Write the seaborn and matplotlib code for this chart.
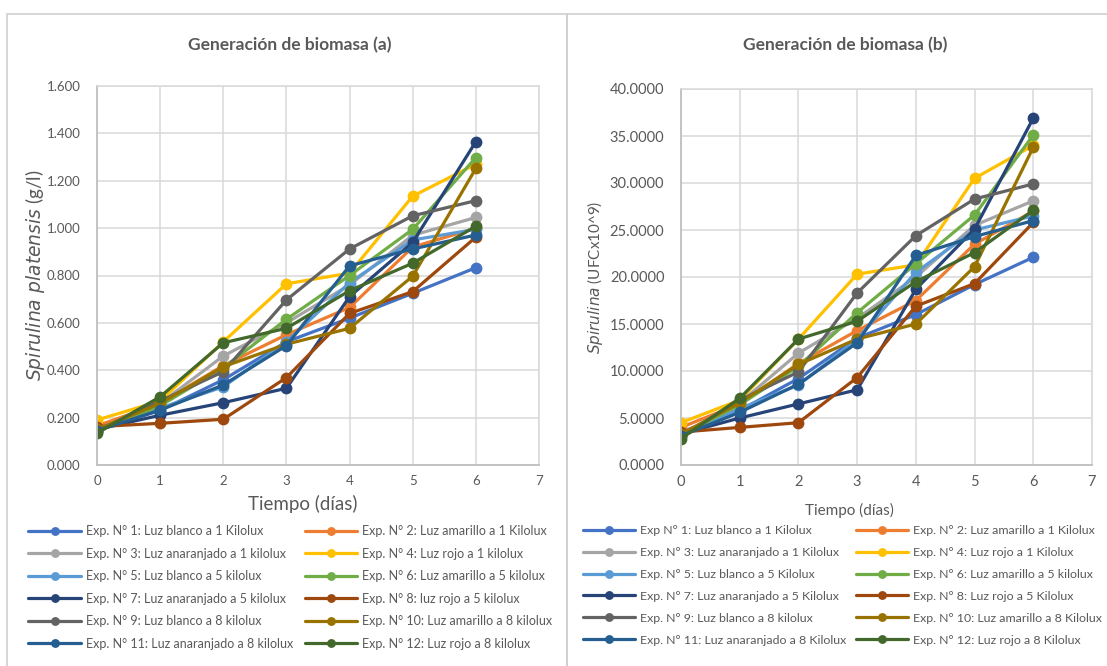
import pandas as pd
import seaborn as sns
from matplotlib import pyplot as plt
from matplotlib.patches import Rectangle

dias = [0, 1, 2, 3, 4, 5, 6]

colores = ["#4472C4", "#ED7D31", "#A5A5A5", "#FFC000", "#5B9BD5", "#70AD47",
           "#264478", "#9E480E", "#636363", "#997300", "#255E91", "#43682B"]

etiquetas_a = ["Exp. N° 1: Luz blanco a 1 Kilolux", "Exp. N° 2: Luz amarillo a 1 Kilolux",
               "Exp. N° 3: Luz anaranjado a 1 kilolux", "Exp. N° 4: Luz rojo a 1 kilolux",
               "Exp. N° 5: Luz blanco a 5 kilolux", "Exp. N° 6: Luz amarillo a 5 kilolux",
               "Exp. N° 7: Luz anaranjado a 5 kilolux", "Exp. N° 8: luz rojo a 5 kilolux",
               "Exp. N° 9: Luz blanco a 8 kilolux", "Exp. N° 10: Luz amarillo a 8 kilolux",
               "Exp. N° 11: Luz anaranjado a 8 kilolux", "Exp. N° 12: Luz rojo a 8 kilolux"]

etiquetas_b = ["Exp N° 1: Luz blanco a 1 Kilolux", "Exp. N° 2: Luz amarillo a 1 Kilolux",
               "Exp. N° 3: Luz anaranjado a 1 Kilolux", "Exp. N° 4: Luz rojo a 1 Kilolux",
               "Exp. N° 5: Luz blanco a 5 Kilolux", "Exp. N° 6: Luz amarillo a 5 kilolux",
               "Exp. N° 7: Luz anaranjado a 5 Kilolux", "Exp. N° 8: Luz rojo a 5 Kilolux",
               "Exp. N° 9: Luz blanco a 8 kilolux", "Exp. N° 10: Luz amarillo a 8 Kilolux",
               "Exp. N° 11: Luz anaranjado a 8 Kilolux", "Exp. N° 12: Luz rojo a 8 Kilolux"]

# (a) biomasa en g/l
a_exp1 = [0.150, 0.230, 0.360, 0.520, 0.620, 0.725, 0.833]
a_exp2 = [0.165, 0.260, 0.420, 0.550, 0.665, 0.920, 1.000]
a_exp3 = [0.150, 0.260, 0.460, 0.600, 0.760, 0.970, 1.045]
a_exp4 = [0.190, 0.270, 0.520, 0.765, 0.810, 1.135, 1.270]
a_exp5 = [0.150, 0.240, 0.330, 0.520, 0.770, 0.950, 0.995]
a_exp6 = [0.145, 0.250, 0.410, 0.615, 0.800, 0.995, 1.298]
a_exp7 = [0.150, 0.210, 0.263, 0.324, 0.711, 0.940, 1.365]
a_exp8 = [0.162, 0.176, 0.193, 0.369, 0.640, 0.732, 0.962]
a_exp9 = [0.145, 0.270, 0.394, 0.697, 0.912, 1.052, 1.116]
a_exp10 = [0.150, 0.260, 0.415, 0.510, 0.577, 0.797, 1.252]
a_exp11 = [0.145, 0.232, 0.338, 0.504, 0.841, 0.912, 0.971]
a_exp12 = [0.134, 0.288, 0.516, 0.577, 0.736, 0.852, 1.008]

# (b) UFC x10^9
b_exp1 = [3.5, 5.8, 9.2, 13.5, 16.0, 19.2, 22.1]
b_exp2 = [4.0, 6.5, 10.8, 14.3, 17.5, 23.5, 27.0]
b_exp3 = [3.3, 6.6, 11.9, 15.6, 20.0, 25.5, 28.1]
b_exp4 = [4.5, 6.9, 13.4, 20.3, 21.3, 30.5, 34.0]
b_exp5 = [3.3, 6.0, 8.5, 13.4, 20.5, 25.0, 26.5]
b_exp6 = [3.2, 6.4, 10.5, 16.2, 21.4, 26.6, 35.1]
b_exp7 = [3.3, 5.0, 6.5, 8.0, 18.7, 25.1, 36.9]
b_exp8 = [3.5, 4.0, 4.5, 9.3, 16.9, 19.3, 25.8]
b_exp9 = [3.1, 6.9, 9.9, 18.3, 24.4, 28.3, 29.9]
b_exp10 = [3.3, 6.6, 10.7, 13.4, 15.0, 21.1, 33.8]
b_exp11 = [3.1, 5.6, 8.6, 13.0, 22.3, 24.3, 26.0]
b_exp12 = [2.8, 7.1, 13.4, 15.3, 19.5, 22.6, 27.1]

series_a = [a_exp1, a_exp2, a_exp3, a_exp4, a_exp5, a_exp6,
            a_exp7, a_exp8, a_exp9, a_exp10, a_exp11, a_exp12]
series_b = [b_exp1, b_exp2, b_exp3, b_exp4, b_exp5, b_exp6,
            b_exp7, b_exp8, b_exp9, b_exp10, b_exp11, b_exp12]


def tabla(series, etiquetas):
    filas = []
    for lab, vals in zip(etiquetas, series):
        for d, v in zip(dias, vals):
            filas.append({"dia": d, "valor": v, "exp": lab})
    return pd.DataFrame(filas)


sns.set_theme(style="white")
plt.rcParams["font.family"] = ["Lato", "DejaVu Sans"]
gris = "#595959"

fig = plt.figure(figsize=(11.07, 6.66), dpi=100)

# marcos de los dos graficos
for x0 in (7, 567):
    fig.patches.append(Rectangle((x0 / 1107, -0.01), 560 / 1107, 1 - 14 / 666 + 0.01,
                                 transform=fig.transFigure, fill=False,
                                 edgecolor="#D0D0D0", linewidth=1.2))

ax_a = fig.add_axes([97 / 1107, 1 - 465 / 666, 442 / 1107, 379 / 666])
ax_b = fig.add_axes([681 / 1107, 1 - 465 / 666, 411 / 1107, 376 / 666])

config = [
    dict(ax=ax_a, series=series_a, etiquetas=etiquetas_a, yticks=[i * 0.2 for i in range(9)],
         fmt="{:.3f}", ymax=1.6, titulo="Generación de biomasa (a)", xt=290,
         ylab=r"$\it{Spirulina\ platensis}$ (g/l)", fs_lab=13.5, fs_tick=9.5, fs_leg=9,
         xlab_pos=(0.466, -0.078), ylab_pos=(-0.112, 0.5), leg_x=17, colsp=0.95, lsp=0.84),
    dict(ax=ax_b, series=series_b, etiquetas=etiquetas_b, yticks=[i * 5 for i in range(9)],
         fmt="{:.4f}", ymax=40, titulo="Generación de biomasa (b)", xt=845,
         ylab=r"$\it{Spirulina}$ (UFCx10^9)", fs_lab=11, fs_tick=10.5, fs_leg=8.9,
         xlab_pos=(0.411, -0.100), ylab_pos=(-0.185, 0.5), leg_x=572, colsp=0.8, lsp=0.88),
]

for c in config:
    ax = c["ax"]
    df = tabla(c["series"], c["etiquetas"])
    sns.lineplot(data=df, x="dia", y="valor", hue="exp", hue_order=c["etiquetas"],
                 palette=colores, marker="o", markersize=8.5, markeredgewidth=0,
                 linewidth=2.3, estimator=None, errorbar=None, legend=False, ax=ax)
    ax.set_xlim(0, 7)
    ax.set_ylim(0, c["ymax"])
    ax.set_xticks(range(8))
    ax.set_yticks(c["yticks"])
    ax.set_yticklabels([c["fmt"].format(t) for t in c["yticks"]])
    ax.tick_params(axis="both", length=0, labelsize=c["fs_tick"], labelcolor=gris)
    ax.tick_params(axis="y", pad=12)
    ax.tick_params(axis="x", pad=7)
    ax.grid(True, color="#D9D9D9", linewidth=1.1)
    ax.set_axisbelow(True)
    for s in ["top", "right"]:
        ax.spines[s].set_color("#D9D9D9")
        ax.spines[s].set_linewidth(1.1)
    for s in ["left", "bottom"]:
        ax.spines[s].set_color("#BFBFBF")
        ax.spines[s].set_linewidth(1.3)
    ax.set_xlabel("Tiempo (días)", fontsize=c["fs_lab"], color=gris)
    ax.set_ylabel(c["ylab"], fontsize=c["fs_lab"], color=gris)
    ax.xaxis.set_label_coords(*c["xlab_pos"])
    ax.yaxis.set_label_coords(*c["ylab_pos"])
    fig.text(c["xt"] / 1107, 1 - 45 / 666, c["titulo"], ha="center", va="center",
             fontsize=12.5, fontweight="bold", color=gris)

    lineas = ax.get_lines()[:12]
    orden = [0, 2, 4, 6, 8, 10, 1, 3, 5, 7, 9, 11]
    ax.legend([lineas[i] for i in orden], [c["etiquetas"][i] for i in orden],
              ncol=2, loc="upper left", frameon=False, fontsize=c["fs_leg"],
              labelcolor=gris, handlelength=4.2, handletextpad=0.4,
              columnspacing=c["colsp"], labelspacing=c["lsp"], markerscale=0.75,
              bbox_transform=fig.transFigure,
              bbox_to_anchor=(c["leg_x"] / 1107, 1 - 514 / 666))

fig.savefig("out.png", dpi=100, facecolor="white")
